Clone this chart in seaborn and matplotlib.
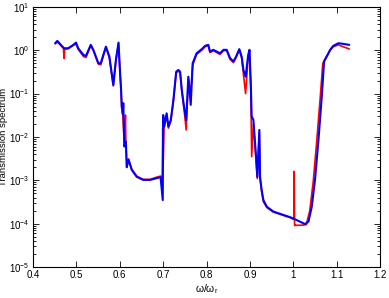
import numpy as np
import pandas as pd
import matplotlib
matplotlib.use("Agg")
import matplotlib.pyplot as plt
import seaborn as sns

# -----------------------------------
# DATA
# -----------------------------------

omega_blue = [0.451, 0.456, 0.462, 0.4715, 0.481, 0.493, 0.499, 0.504, 0.516, 0.522,
              0.533, 0.539, 0.5505, 0.556, 0.568, 0.576, 0.585, 0.591, 0.597, 0.6006,
              0.603, 0.6045, 0.607, 0.608, 0.6105, 0.614, 0.616, 0.620, 0.6275, 0.639,
              0.654, 0.670, 0.685, 0.694, 0.699, 0.700, 0.702, 0.708, 0.712, 0.7175,
              0.7235, 0.730, 0.735, 0.739, 0.743, 0.748, 0.753, 0.758, 0.7635, 0.768,
              0.777, 0.789, 0.7965, 0.804, 0.808, 0.8155, 0.8235, 0.831, 0.839, 0.8465,
              0.854, 0.862, 0.868, 0.8755, 0.881, 0.885, 0.890, 0.896, 0.899, 0.902,
              0.904, 0.908, 0.914, 0.917, 0.9217, 0.9233, 0.927, 0.931, 0.939, 0.954,
              0.977, 0.9925, 1.004, 1.027, 1.035, 1.0425, 1.050, 1.058, 1.0656, 1.071,
              1.077, 1.085, 1.092, 1.104, 1.115, 1.129]
trans_blue = [1.45, 1.64, 1.40, 1.11, 1.11, 1.33, 1.50, 1.11, 0.78, 0.74,
              1.33, 1.02, 0.50, 0.50, 1.21, 0.71, 0.158, 0.60, 1.50, 0.30,
              0.12, 0.050, 0.035, 0.060, 0.006, 0.0078, 0.0020, 0.0030, 0.00174, 0.00120,
              0.00102, 0.00102, 0.00112, 0.00118, 0.00035, 0.032, 0.0174, 0.035, 0.0174, 0.0245,
              0.071, 0.32, 0.35, 0.32, 0.12, 0.050, 0.0245, 0.245, 0.055, 0.50,
              0.85, 1.06, 1.26, 1.33, 0.93, 1.02, 0.93, 0.85, 1.02, 1.02,
              0.66, 0.55, 0.71, 1.06, 0.71, 0.35, 0.245, 0.78, 1.02, 0.17,
              0.030, 0.0245, 0.0036, 0.0012, 0.0145, 0.0012, 0.0006, 0.00035, 0.000245, 0.00019,
              0.000159, 0.000141, 0.000126, 0.0000977, 0.000112, 0.000245, 0.00102, 0.0085, 0.085, 0.55,
              0.71, 1.02, 1.26, 1.45, 1.40, 1.33]

omega_red = [0.451, 0.456, 0.462, 0.470, 0.4715, 0.473, 0.481, 0.493, 0.499, 0.504,
             0.516, 0.522, 0.533, 0.539, 0.5505, 0.556, 0.568, 0.576, 0.585, 0.591,
             0.597, 0.6006, 0.603, 0.6045, 0.607, 0.6105, 0.613, 0.614, 0.616, 0.620,
             0.6275, 0.639, 0.654, 0.670, 0.685, 0.694, 0.698, 0.699, 0.700, 0.702,
             0.708, 0.712, 0.7175, 0.7235, 0.730, 0.735, 0.739, 0.743, 0.748, 0.753,
             0.758, 0.7635, 0.768, 0.777, 0.789, 0.7965, 0.804, 0.808, 0.8155, 0.8235,
             0.831, 0.839, 0.8465, 0.854, 0.862, 0.868, 0.8755, 0.881, 0.885, 0.890,
             0.896, 0.899, 0.902, 0.904, 0.908, 0.914, 0.917, 0.9217, 0.9233, 0.927,
             0.931, 0.939, 0.954, 0.977, 0.9925, 1.001, 1.002, 1.003, 1.004, 1.020,
             1.030, 1.038, 1.046, 1.054, 1.062, 1.068, 1.075, 1.085, 1.092, 1.104,
             1.115, 1.129]
trans_red = [1.40, 1.55, 1.35, 1.10, 0.65, 1.05, 1.08, 1.30, 1.40, 1.05,
             0.72, 0.68, 1.28, 0.98, 0.48, 0.46, 1.18, 0.66, 0.15, 0.58,
             1.42, 0.28, 0.11, 0.045, 0.030, 0.0065, 0.032, 0.0075, 0.0021, 0.0031,
             0.00180, 0.00125, 0.00105, 0.00105, 0.00118, 0.00125, 0.0011, 0.0160, 0.0025, 0.0160,
             0.032, 0.0160, 0.0230, 0.065, 0.30, 0.33, 0.30, 0.11, 0.045, 0.0145,
             0.22, 0.10, 0.45, 0.80, 1.00, 1.20, 1.28, 0.88, 0.98, 0.88,
             0.80, 0.98, 0.98, 0.62, 0.52, 0.68, 1.02, 0.66, 0.28, 0.100,
             0.70, 0.95, 0.12, 0.0035, 0.0200, 0.0030, 0.0011, 0.0125, 0.0011, 0.00055,
             0.00032, 0.000235, 0.000185, 0.000155, 0.000138, 0.000125, 0.0016, 0.000090, 0.000092, 0.000092,
             0.000095, 0.00020, 0.00095, 0.0080, 0.080, 0.50, 0.68, 1.00, 1.20, 1.33,
             1.20, 1.07]

xticks = [0.4, 0.5, 0.6, 0.7, 0.8, 0.9, 1.0, 1.1, 1.2]
xtick_labels = ["0.4", "0.5", "0.6", "0.7", "0.8", "0.9", "1", "1.1", "1.2"]

# -----------------------------------
# PLOT
# -----------------------------------

sns.set_style("ticks")
plt.rcParams["font.family"] = ["Liberation Sans", "DejaVu Sans"]
plt.rcParams["mathtext.fontset"] = "custom"
plt.rcParams["mathtext.rm"] = "Liberation Sans"
plt.rcParams["mathtext.it"] = "Liberation Sans"
plt.rcParams["mathtext.default"] = "regular"
for key in ["text.color", "axes.labelcolor", "xtick.color", "ytick.color"]:
    plt.rcParams[key] = "black"

fig = plt.figure(figsize=(3.89, 2.98), dpi=100)
ax = fig.add_axes([0.085, 0.104, 0.892, 0.873])

df_red = pd.DataFrame({"omega": omega_red, "T": trans_red})
df_blue = pd.DataFrame({"omega": omega_blue, "T": trans_blue})

sns.lineplot(x="omega", y="T", data=df_red, color="red", linewidth=1.2,
             estimator=None, sort=False, ax=ax)
sns.lineplot(x="omega", y="T", data=df_blue, color="blue", linewidth=1.5,
             estimator=None, sort=False, ax=ax)

ax.set_yscale("log")
ax.set_ylim(1e-5, 1e1)
ax.set_xlim(0.4, 1.2)
ax.set_xticks(xticks)
ax.set_xticklabels(xtick_labels)

ax.set_xlabel(r"$\omega/\omega_r$", fontsize=7.5, labelpad=1)
ax.set_ylabel("Transmission spectrum", fontsize=6.8, labelpad=1)

ax.tick_params(which="both", direction="in", top=True, right=True,
               width=0.6, color="black", pad=2.5)
ax.tick_params(axis="x", labelsize=7)
ax.tick_params(axis="y", labelsize=7)
ax.tick_params(which="major", length=4)
ax.tick_params(which="minor", length=2)
for s in ax.spines.values():
    s.set_linewidth(0.8)
    s.set_color("black")

fig.savefig("out.png", dpi=100)
